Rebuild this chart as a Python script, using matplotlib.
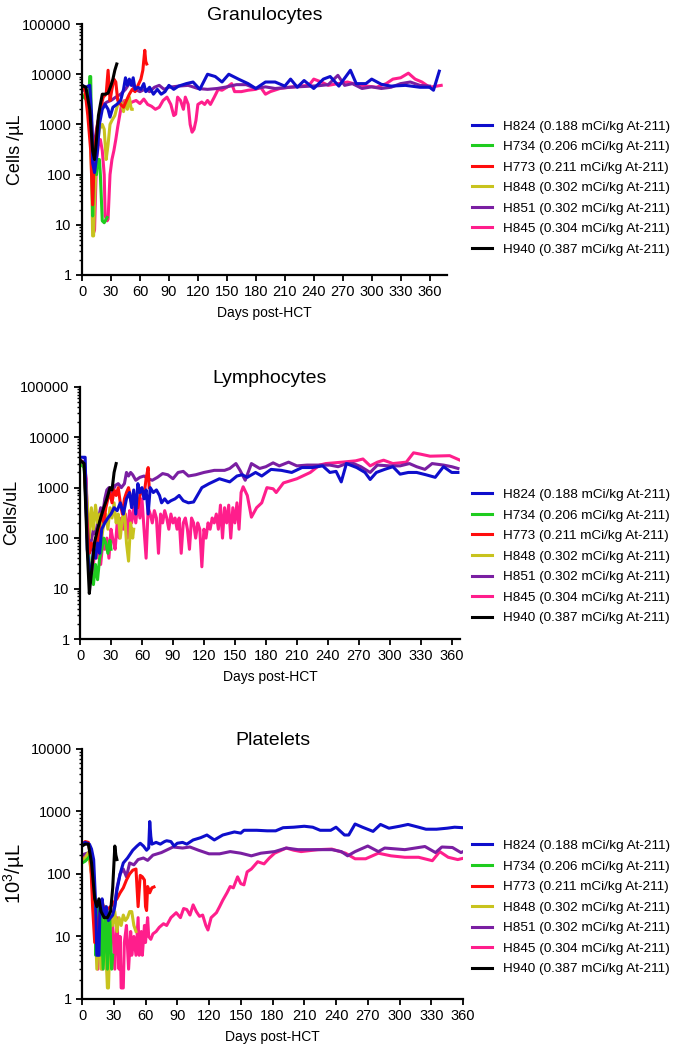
"""
Blood counts after HCT (granulocytes, lymphocytes, platelets) per subject
"""

import matplotlib
matplotlib.use("Agg")
import matplotlib.pyplot as plt
from matplotlib.ticker import LogLocator, FuncFormatter, NullFormatter, MultipleLocator

plt.rcParams['font.family'] = ['Liberation Sans', 'DejaVu Sans']
plt.rcParams['mathtext.fontset'] = 'custom'
plt.rcParams['mathtext.rm'] = 'Liberation Sans'
plt.rcParams['mathtext.it'] = 'Liberation Sans'

# subjects, doses, colours (legend order)
subjects = ['H824', 'H734', 'H773', 'H848', 'H851', 'H845', 'H940']
doses = ['0.188', '0.206', '0.211', '0.302', '0.302', '0.304', '0.387']
colors = ['#0E0ECC', '#1FCC1F', '#FF0D0D', '#C8C31E', '#7A1FA2', '#FF1E8C', '#000000']

# ---- Granulocytes (day, cells/uL) ----
gran_h824 = [(0, 6000), (4, 5500), (8, 6000), (10, 1500), (11, 170), (13, 110), (16, 300), (18, 1000),
             (21, 2000), (24, 2500), (27, 2000), (29, 1400), (32, 2200), (36, 2500), (40, 3000), (43, 5000),
             (45, 8500), (47, 6000), (49, 8000), (51, 6000), (53, 8500), (55, 5000), (58, 5500), (61, 5000),
             (64, 6500), (66, 4500), (70, 5500), (74, 4000), (78, 5000), (82, 4000), (86, 4500), (90, 6000),
             (95, 5000), (100, 5800), (108, 6500), (115, 7000), (122, 5000), (130, 10000), (138, 9000),
             (145, 7000), (152, 10000), (162, 8000), (172, 6500), (180, 5200), (190, 7000), (200, 7000),
             (210, 5800), (216, 8000), (223, 5500), (230, 7500), (240, 5200), (250, 8000), (257, 9000),
             (266, 5800), (278, 12000), (284, 6500), (294, 6500), (300, 8000), (310, 6300), (320, 5800),
             (335, 6000), (350, 5500), (360, 5500), (364, 4800), (370, 11500)]
gran_h734 = [(0, 3800), (4, 3200), (7, 2500), (8, 9000), (9, 9000), (10, 300), (11, 15), (12, 100),
             (13, 200), (15, 100), (16, 200), (18, 200), (19, 100), (21, 12), (23, 11), (25, 13), (26, 14)]
gran_h773 = [(0, 5500), (3, 5000), (6, 1500), (9, 300), (11, 25), (13, 300), (16, 1000), (19, 2000),
             (22, 3500), (25, 4000), (27, 12000), (29, 3000), (31, 5000), (33, 8000), (35, 7000), (37, 3000),
             (40, 2500), (43, 2200), (46, 3000), (49, 4000), (52, 5000), (55, 4500), (58, 6000), (61, 8000),
             (63, 12000), (65, 30000), (66, 18000), (67, 16000)]
gran_h848 = [(0, 4000), (5, 3500), (8, 1500), (10, 100), (11, 6), (12, 6), (13, 30), (15, 300), (18, 800),
             (21, 1000), (23, 800), (25, 200), (27, 400), (29, 1000), (31, 1200), (34, 1500), (37, 2500),
             (40, 3000), (43, 1800), (45, 3000), (47, 2000), (49, 3500), (51, 2000), (52, 2000)]
gran_h851 = [(0, 5000), (5, 4500), (9, 2000), (12, 300), (15, 800), (18, 1500), (22, 2500), (26, 2800),
             (30, 3000), (35, 3500), (40, 4000), (45, 5000), (50, 7000), (55, 5000), (60, 4500), (65, 5000),
             (70, 4500), (75, 5500), (80, 6000), (85, 5000), (90, 5500), (100, 5800), (110, 6000), (120, 5200),
             (130, 5000), (140, 5200), (150, 5600), (160, 6200), (170, 6200), (180, 5200), (190, 5600),
             (200, 5200), (215, 5500), (230, 5700), (245, 5900), (255, 6200), (265, 9500), (272, 6000),
             (280, 6500), (290, 5200), (300, 5600), (310, 5200), (320, 5500), (330, 6500), (340, 7000),
             (350, 6000), (360, 5800)]
gran_h845 = [(0, 5500), (4, 5000), (8, 2000), (11, 50), (12, 7), (13, 8), (15, 200), (17, 400), (19, 500),
             (21, 300), (23, 100), (24, 15), (26, 12), (27, 13), (29, 100), (31, 200), (33, 300), (35, 500),
             (37, 900), (39, 1500), (41, 2500), (44, 3000), (48, 2500), (52, 2800), (56, 3000), (60, 2600),
             (64, 3200), (68, 2500), (72, 2300), (76, 2000), (80, 2200), (84, 3000), (88, 3500), (92, 2500),
             (95, 1500), (97, 1600), (99, 3500), (102, 3000), (105, 2000), (107, 3500), (110, 2500),
             (112, 1000), (114, 700), (116, 800), (118, 1200), (120, 2500), (124, 2800), (127, 2500),
             (130, 3000), (133, 2500), (137, 3500), (141, 5000), (145, 4800), (150, 5500), (155, 6500),
             (158, 4500), (165, 4500), (172, 4800), (180, 5000), (185, 5500), (190, 4000), (195, 4500),
             (205, 5200), (215, 5500), (225, 5800), (235, 6000), (240, 8000), (248, 7000), (255, 6000),
             (265, 6500), (275, 7000), (285, 6200), (295, 5800), (305, 5500), (315, 6500), (322, 8000),
             (330, 8500), (338, 10500), (345, 8000), (352, 7000), (360, 5500), (372, 6000)]
gran_h940 = [(0, 6000), (4, 5500), (8, 2000), (11, 300), (13, 200), (15, 500), (17, 1500), (19, 2500),
             (21, 4000), (24, 4000), (27, 4200), (30, 6000), (32, 8000), (34, 12000), (36, 16000)]

# ---- Lymphocytes (day, cells/uL) ----
lymph_h824 = [(0, 4000), (3, 4000), (5, 4000), (7, 60), (9, 25), (11, 20), (13, 60), (15, 40), (17, 80),
              (19, 50), (21, 150), (24, 200), (27, 250), (30, 300), (33, 400), (36, 350), (39, 500), (42, 300),
              (45, 600), (48, 800), (50, 400), (52, 900), (54, 300), (56, 1200), (58, 800), (60, 1000),
              (62, 600), (64, 900), (66, 300), (68, 1000), (71, 800), (74, 900), (77, 700), (79, 500),
              (82, 600), (85, 500), (88, 550), (92, 600), (96, 700), (100, 550), (105, 500), (110, 520),
              (118, 1000), (125, 1200), (135, 1500), (145, 1300), (152, 1700), (157, 1800), (162, 1600),
              (170, 2000), (176, 1700), (185, 2300), (195, 2200), (205, 2000), (215, 2500), (225, 2500),
              (235, 2700), (242, 2000), (248, 2100), (253, 1300), (258, 3000), (268, 2500), (276, 2000),
              (281, 1450), (287, 2000), (295, 2300), (303, 2600), (310, 1850), (318, 2000), (326, 2000),
              (335, 1800), (344, 1600), (352, 2600), (360, 2000), (366, 2000)]
lymph_h734 = [(0, 3000), (4, 2500), (7, 200), (9, 30), (11, 20), (13, 12), (15, 30), (17, 15), (19, 40),
              (21, 60), (23, 100), (25, 80), (27, 50), (29, 90), (30, 60)]
lymph_h773 = [(0, 3500), (4, 3000), (7, 200), (9, 50), (11, 80), (13, 50), (15, 100), (17, 70), (19, 200),
              (21, 300), (23, 200), (25, 400), (27, 600), (29, 800), (31, 500), (33, 900), (35, 700),
              (37, 1000), (39, 500), (41, 300), (43, 600), (45, 800), (47, 1000), (50, 500), (53, 700),
              (56, 400), (59, 900), (62, 700), (64, 1500), (66, 2500), (67, 1000)]
lymph_h848 = [(0, 3000), (4, 2800), (7, 500), (9, 100), (11, 400), (13, 150), (15, 450), (17, 200),
              (19, 300), (21, 100), (23, 200), (25, 300), (27, 150), (29, 400), (31, 250), (33, 500),
              (35, 200), (37, 300), (39, 100), (41, 250), (43, 350), (45, 80), (47, 35), (49, 200), (51, 100),
              (52, 150)]
lymph_h851 = [(0, 3500), (4, 3200), (7, 100), (9, 60), (11, 90), (13, 150), (15, 120), (18, 250), (20, 400),
              (22, 300), (24, 600), (26, 900), (28, 1000), (31, 800), (34, 1100), (37, 1200), (40, 1000),
              (43, 1200), (45, 2000), (47, 1700), (49, 2000), (51, 1800), (54, 1400), (58, 1600), (62, 1700),
              (66, 1500), (70, 1400), (75, 1600), (80, 1900), (85, 1800), (90, 1500), (95, 2000), (100, 2100),
              (105, 1700), (112, 1800), (120, 2000), (130, 2200), (140, 2200), (145, 2400), (151, 3000),
              (155, 2200), (160, 1400), (166, 3000), (174, 2400), (180, 2600), (187, 3100), (193, 2700),
              (202, 3200), (210, 2700), (220, 2800), (230, 2800), (242, 2800), (250, 2600), (258, 3000),
              (265, 3000), (272, 2600), (281, 2000), (288, 2800), (300, 2700), (310, 2700), (319, 3000),
              (326, 2600), (334, 2300), (341, 3000), (352, 2800), (360, 2600), (366, 2400)]
lymph_h845 = [(0, 3000), (4, 3000), (6, 1500), (8, 50), (10, 15), (12, 13), (14, 60), (16, 40), (18, 100),
              (20, 30), (22, 80), (24, 60), (26, 100), (28, 40), (30, 150), (32, 90), (34, 60), (36, 200),
              (38, 100), (40, 250), (42, 150), (44, 300), (46, 100), (48, 350), (50, 200), (52, 400),
              (54, 200), (56, 500), (58, 250), (60, 600), (62, 150), (64, 40), (66, 400), (68, 300), (70, 200),
              (72, 350), (74, 250), (76, 50), (78, 300), (80, 200), (82, 350), (84, 250), (86, 150), (88, 300),
              (90, 200), (92, 250), (94, 150), (96, 250), (98, 50), (100, 200), (102, 250), (104, 150),
              (106, 60), (108, 250), (110, 200), (112, 100), (114, 200), (116, 150), (118, 27), (120, 150),
              (122, 100), (124, 200), (126, 150), (128, 250), (130, 200), (132, 300), (134, 150), (136, 450),
              (138, 100), (140, 400), (142, 200), (144, 450), (146, 100), (148, 400), (150, 200), (152, 500),
              (154, 150), (156, 800), (158, 1040), (162, 700), (166, 260), (171, 400), (176, 500), (181, 1000),
              (187, 950), (190, 800), (197, 1240), (210, 1500), (223, 2000), (232, 2800), (238, 3000),
              (254, 3200), (267, 3400), (274, 3700), (281, 2700), (288, 3200), (294, 3500), (303, 3000),
              (316, 3200), (323, 4900), (330, 4600), (339, 4200), (358, 4300), (368, 3500)]
lymph_h940 = [(0, 3500), (4, 3000), (7, 60), (9, 8), (11, 20), (14, 80), (17, 150), (20, 250), (23, 400),
              (26, 600), (29, 1000), (31, 900), (33, 2000), (35, 3000)]

# ---- Platelets (day, 10^3/uL) ----
plt_h824 = [(0, 300), (3, 320), (7, 300), (9, 250), (11, 170), (13, 30), (14, 5), (16, 5), (17, 30), (19, 40),
            (21, 20), (23, 30), (25, 18), (27, 20), (29, 22), (31, 30), (33, 55), (36, 100), (39, 150),
            (43, 180), (48, 240), (52, 280), (55, 310), (58, 280), (61, 240), (63, 260), (64, 690), (65, 400),
            (66, 300), (70, 320), (74, 300), (78, 330), (80, 340), (84, 330), (87, 280), (90, 310), (95, 320),
            (99, 300), (105, 350), (112, 380), (118, 420), (125, 350), (133, 420), (144, 470), (150, 450),
            (153, 500), (165, 500), (175, 490), (183, 490), (190, 550), (200, 560), (210, 580), (218, 560),
            (225, 500), (235, 500), (240, 560), (248, 420), (252, 420), (258, 630), (265, 560), (275, 480),
            (282, 620), (290, 540), (300, 580), (308, 620), (318, 560), (325, 520), (335, 520), (345, 540),
            (352, 560), (360, 550)]
plt_h734 = [(0, 150), (3, 160), (6, 180), (8, 200), (10, 100), (12, 40), (13, 5), (15, 30), (17, 5), (18, 30),
            (20, 3), (22, 30), (24, 3), (26, 25), (28, 3), (29, 5)]
plt_h773 = [(0, 300), (3, 330), (6, 320), (8, 200), (10, 30), (12, 8), (14, 8), (16, 20), (19, 35), (22, 25),
            (25, 28), (27, 30), (30, 35), (33, 40), (36, 50), (39, 60), (42, 80), (45, 100), (48, 115),
            (51, 120), (53, 30), (55, 95), (57, 90), (59, 80), (60, 30), (61, 26), (62, 63), (64, 50), (66, 60),
            (68, 62)]
plt_h848 = [(0, 170), (3, 180), (6, 220), (9, 100), (12, 30), (14, 3), (16, 15), (18, 3), (20, 25), (22, 10),
            (24, 1.5), (25, 1.5), (27, 20), (29, 15), (31, 25), (33, 12), (35, 20), (37, 15), (39, 22), (41, 18),
            (43, 20), (45, 25), (47, 25), (49, 15), (51, 12)]
plt_h851 = [(0, 200), (3, 210), (7, 220), (9, 150), (11, 60), (13, 20), (15, 8), (18, 25), (21, 15), (24, 20),
            (27, 15), (30, 25), (33, 60), (36, 100), (39, 120), (42, 90), (45, 150), (49, 140), (53, 170),
            (58, 180), (62, 165), (67, 200), (75, 220), (86, 270), (95, 260), (102, 270), (110, 240),
            (120, 210), (130, 210), (140, 228), (150, 215), (160, 195), (169, 215), (182, 228), (193, 260),
            (204, 245), (220, 245), (236, 245), (245, 228), (251, 195), (258, 228), (270, 280), (280, 228),
            (286, 260), (305, 245), (324, 275), (334, 220), (340, 270), (350, 265), (358, 220), (362, 235)]
plt_h845 = [(0, 180), (4, 190), (7, 200), (9, 100), (11, 30), (13, 8), (15, 3), (17, 20), (19, 3), (21, 15),
            (23, 3), (25, 20), (27, 8), (29, 15), (31, 3), (33, 20), (35, 3), (36, 10), (37, 1.5), (39, 1.5),
            (40, 8), (42, 15), (44, 3), (46, 12), (47, 5), (49, 10), (51, 5), (53, 20), (54, 5), (56, 12),
            (57, 5), (59, 15), (60, 8), (62, 20), (63, 10), (65, 9), (67, 11), (70, 12), (73, 14), (77, 16),
            (80, 15), (84, 20), (89, 24), (93, 20), (96, 28), (99, 27), (102, 22), (105, 32), (108, 25),
            (111, 21), (114, 22), (117, 15), (119, 12.7), (122, 20), (127, 24), (130, 30), (133, 38),
            (137, 50), (140, 63), (143, 60), (147, 90), (150, 70), (153, 67), (156, 108), (160, 120),
            (166, 157), (172, 145), (177, 180), (182, 215), (193, 260), (200, 240), (207, 228), (223, 245),
            (236, 250), (249, 215), (258, 175), (268, 175), (280, 215), (292, 195), (305, 185), (318, 185),
            (331, 163), (338, 228), (346, 185), (355, 170), (360, 178)]
plt_h940 = [(0, 280), (3, 300), (6, 300), (9, 150), (12, 40), (14, 30), (16, 40), (18, 25), (21, 20),
            (24, 20), (27, 25), (29, 60), (31, 280), (32, 200), (33, 170)]

gran_series = [gran_h824, gran_h734, gran_h773, gran_h848, gran_h851, gran_h845, gran_h940]
lymph_series = [lymph_h824, lymph_h734, lymph_h773, lymph_h848, lymph_h851, lymph_h845, lymph_h940]
plt_series = [plt_h824, plt_h734, plt_h773, plt_h848, plt_h851, plt_h845, plt_h940]

# drawing order (back to front), indexes into subjects
DRAW_ORDER = [5, 4, 3, 1, 2, 0, 6]


def draw_panel(fig, rect, series, title, ylabel, ylabel_x, ylabel_size, ymax, xmax, legend_y):
    ax = fig.add_axes(rect)
    handles = [None] * len(subjects)
    for i in DRAW_ORDER:
        days = [p[0] for p in series[i]]
        vals = [p[1] for p in series[i]]
        line, = ax.plot(days, vals, color=colors[i], lw=2.2)
        handles[i] = line

    ax.set_yscale('log')
    ax.set_ylim(1, ymax)
    ax.set_xlim(0, xmax)
    ax.yaxis.set_major_locator(LogLocator(base=10, numticks=10))
    ax.yaxis.set_minor_locator(LogLocator(base=10, subs=range(2, 10), numticks=20))
    ax.yaxis.set_major_formatter(FuncFormatter(lambda v, p: f'{int(round(v))}'))
    ax.yaxis.set_minor_formatter(NullFormatter())
    ax.xaxis.set_major_locator(MultipleLocator(30))

    for s in ['top', 'right']:
        ax.spines[s].set_visible(False)
    for s in ['left', 'bottom']:
        ax.spines[s].set_linewidth(1.6)
    ax.tick_params(which='major', direction='out', length=4, width=1.3, labelsize=10.5)
    ax.tick_params(which='minor', direction='out', length=2.5, width=1)

    ax.set_title(title, fontsize=14, pad=2)
    ax.set_ylabel(ylabel, fontsize=ylabel_size)
    ax.yaxis.set_label_coords(ylabel_x, 0.5)
    ax.set_xlabel('Days post-HCT', fontsize=10, labelpad=5)

    labels = [f'{s} ({d} mCi/kg At-211)' for s, d in zip(subjects, doses)]
    ax.legend(handles, labels, loc='center left', bbox_to_anchor=(0.686, legend_y),
              bbox_transform=fig.transFigure, frameon=False, fontsize=9.7,
              handlelength=1.5, handletextpad=0.8, labelspacing=0.6,
              borderpad=0, borderaxespad=0)
    return ax


fig = plt.figure(figsize=(6.88, 10.5), dpi=100)

draw_panel(fig, [0.1192, 0.7381, 0.5305, 0.2390], gran_series, 'Granulocytes',
           'Cells /\u00b5L', -0.159, 13, 1e5, 378, 0.8210)
draw_panel(fig, [0.1163, 0.3914, 0.5523, 0.2403], lymph_series, 'Lymphocytes',
           'Cells/uL', -0.158, 13, 1e5, 368, 0.4700)
draw_panel(fig, [0.1192, 0.0486, 0.5538, 0.2381], plt_series, 'Platelets',
           '10$^3$/\u00b5L', -0.144, 14.5, 1e4, 360, 0.1357)

fig.savefig('out.png', dpi=100)
